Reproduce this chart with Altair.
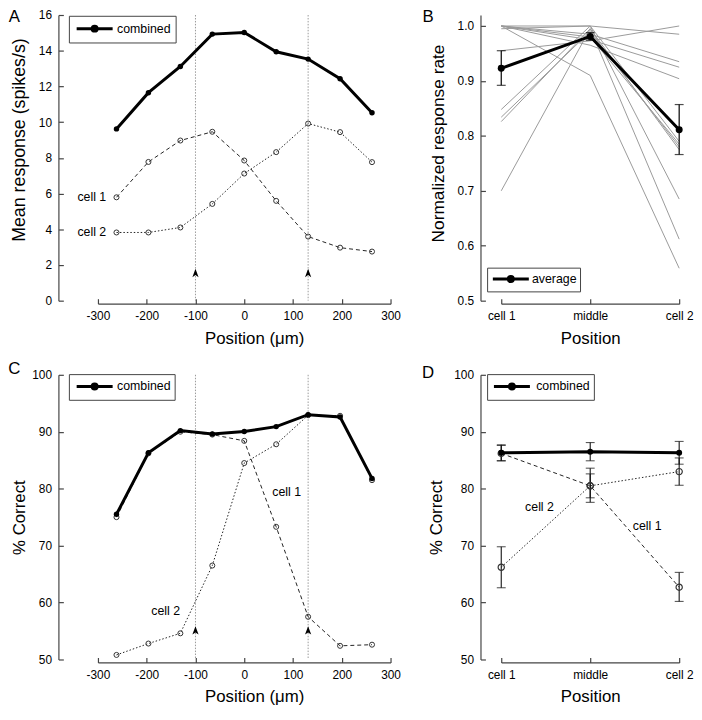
import altair as alt
import pandas as pd

FONT = "Liberation Sans"

# ---------------- Panels A and C: position in micrometres ----------------
position_um = [-262, -196.5, -131, -65.5, 0, 65.5, 131, 196.5, 262]
a_combined = [9.62, 11.65, 13.12, 14.93, 15.02, 13.94, 13.53, 12.43, 10.53]
a_cell1 = [5.79, 7.77, 8.97, 9.46, 7.85, 5.59, 3.59, 2.97, 2.75]
a_cell2 = [3.82, 3.82, 4.10, 5.42, 7.12, 8.32, 9.92, 9.44, 7.76]

c_combined = [75.5, 86.3, 90.2, 89.6, 90.05, 90.9, 93.0, 92.6, 81.8]
c_cell1 = [75.0, 86.2, 90.0, 89.5, 88.4, 73.3, 57.5, 52.4, 52.6]
c_cell2 = [50.8, 52.8, 54.6, 66.5, 84.5, 87.8, 92.9, 92.8, 81.5]

cell_centres_um = [-100, 131]
a_arrow_level = 1.55
c_arrow_level = 55.1

a_x_ticks = [-300, -200, -100, 0, 100, 200, 300]
a_y_ticks = [0, 2, 4, 6, 8, 10, 12, 14, 16]
c_y_ticks = [50, 60, 70, 80, 90, 100]

a_note_text = ["cell 1", "cell 2"]
a_note_x = [-283, -283]
a_note_y = [5.79, 3.82]
c_note_text = ["cell 1", "cell 2"]
c_note_x = [87, -161]
c_note_y = [79.4, 58.5]

# ---------------- Panels B and D: categorical positions ----------------
cat_labels = ["cell 1", "middle", "cell 2"]
cat_index = [0, 1, 2]

b_cells = [
    [1.000, 0.910, 0.559],
    [0.700, 0.995, 0.612],
    [0.955, 0.973, 1.000],
    [1.000, 1.000, 0.985],
    [1.000, 0.985, 0.935],
    [1.000, 0.975, 0.925],
    [1.000, 0.965, 0.904],
    [0.848, 1.000, 0.790],
    [0.834, 0.990, 0.780],
    [0.826, 0.995, 0.775],
    [0.995, 1.000, 0.685],
    [1.000, 0.980, 0.785],
]
b_avg = [0.923, 0.981, 0.811]
b_avg_lo = [0.892, 0.974, 0.766]
b_avg_hi = [0.955, 0.988, 0.857]
b_y_ticks = [0.5, 0.6, 0.7, 0.8, 0.9, 1.0]

d_combined = [86.3, 86.5, 86.3]
d_combined_lo = [84.9, 84.9, 84.3]
d_combined_hi = [87.7, 88.1, 88.3]
d_cell1 = [86.2, 80.5, 62.7]
d_cell1_lo = [84.9, 77.6, 60.2]
d_cell1_hi = [87.6, 83.6, 65.3]
d_cell2 = [66.2, 80.5, 83.0]
d_cell2_lo = [62.6, 78.4, 80.6]
d_cell2_hi = [69.8, 82.6, 85.4]

d_note_text = ["cell 2", "cell 1"]
d_note_x = [0.43, 1.64]
d_note_y = [76.8, 73.4]

# ---------------- styling helpers ----------------
TICK_IN = alt.ExprRef(expr="-5")
AXIS_COL = "#444"
LEG_SYMBOL = "M-2.6,0L2.6,0M0.36,0A0.36,0.36,0,1,1,-0.36,0A0.36,0.36,0,1,1,0.36,0"
CAT_EXPR = ("datum.value == 0 ? '%s' : (datum.value == 1 ? '%s' : '%s')"
            % tuple(cat_labels))
HYPHEN_EXPR = "datum.value < 0 ? '-' + format(-datum.value, 'd') : format(datum.value, 'd')"
ROW1_H = 289
ROW2_H = 288
LETTER_X = -84.5


def x_axis(title, values, label_expr, title_x=None):
    kw = dict(title=title, values=values, offset=3, tickSize=TICK_IN,
              labelPadding=12, titlePadding=9, labelFlush=False,
              labelOverlap=False, labelExpr=label_expr)
    if title_x is not None:
        kw["titleX"] = title_x
    return alt.Axis(**kw)


def y_axis(title, values, offset, fmt, title_pad, title_size, title_y=None):
    kw = dict(title=title, values=values, offset=offset, tickSize=TICK_IN,
              labelPadding=12, titlePadding=title_pad, labelOverlap=False,
              format=fmt, titleFontSize=title_size)
    if title_y is not None:
        kw["titleY"] = title_y
    return alt.Axis(**kw)


def legend(x, y, pad, sym_off, lab_off):
    return alt.Legend(title=None, orient="none", legendX=x, legendY=y,
                      padding=pad, strokeColor=AXIS_COL, fillColor="white",
                      symbolType=LEG_SYMBOL, symbolSize=196,
                      symbolStrokeWidth=3, symbolOffset=sym_off,
                      labelOffset=lab_off, labelFont=FONT, labelFontSize=12.5,
                      labelColor="black")


def letter(txt, x, y):
    return alt.Chart(pd.DataFrame({"t": [txt]})).mark_text(
        font=FONT, fontSize=17, align="center", baseline="middle", color="black"
    ).encode(text="t:N", x=alt.value(x), y=alt.value(y))


def position_panel(combined, cell1, cell2, y_dom, y_ax, arrow_level,
                   notes, note_align, leg, tag, tag_xy, height):
    df = pd.DataFrame({
        "pos": position_um * 3,
        "val": combined + cell1 + cell2,
        "series": ["combined"] * 9 + ["cell 1"] * 9 + ["cell 2"] * 9,
    })
    X = alt.X("pos:Q", scale=alt.Scale(domain=[-300, 300], nice=False, zero=False),
              axis=x_axis("Position (μm)", a_x_ticks, HYPHEN_EXPR, 158))
    Y = alt.Y("val:Q", scale=alt.Scale(domain=y_dom, nice=False, zero=False), axis=y_ax)
    marks = pd.DataFrame({"pos": cell_centres_um, "val": [arrow_level] * 2})
    note_df = pd.DataFrame({"pos": notes[0], "val": notes[1], "label": notes[2]})

    rules = alt.Chart(marks).mark_rule(color="#9a9a9a", strokeDash=[1.5, 1.5],
                                       strokeWidth=1).encode(x=X)
    arrows = alt.Chart(marks).mark_point(
        shape="M0,-1L0.75,1L0,0.5L-0.75,1Z", filled=True, color="black",
        size=70, opacity=1).encode(x=X, y=Y)
    c1 = alt.Chart(df).transform_filter(alt.datum.series == "cell 1")
    c2 = alt.Chart(df).transform_filter(alt.datum.series == "cell 2")
    cb = alt.Chart(df).transform_filter(alt.datum.series == "combined")
    c1_line = c1.mark_line(color="#222", strokeDash=[4, 3], strokeWidth=1).encode(x=X, y=Y)
    c2_line = c2.mark_line(color="#222", strokeDash=[1.5, 2], strokeWidth=1).encode(x=X, y=Y)
    c1_pts = c1.mark_point(filled=False, color="#333", size=26, strokeWidth=1, opacity=1).encode(x=X, y=Y)
    c2_pts = c2.mark_point(filled=False, color="#333", size=26, strokeWidth=1, opacity=1).encode(x=X, y=Y)
    cb_line = cb.mark_line(strokeWidth=3).encode(
        x=X, y=Y,
        color=alt.Color("series:N", scale=alt.Scale(domain=["combined"], range=["black"]),
                        legend=leg))
    cb_pts = cb.mark_point(filled=True, color="black", size=30, opacity=1).encode(x=X, y=Y)
    texts = alt.Chart(note_df).mark_text(font=FONT, fontSize=12.5, align=note_align,
                                         baseline="middle", color="black").encode(
        x=X, y=Y, text="label:N")
    return alt.layer(rules, arrows, c1_line, c2_line, c1_pts, c2_pts, cb_line, cb_pts,
                     texts, letter(tag, *tag_xy)).properties(width=296, height=height)


A = position_panel(a_combined, a_cell1, a_cell2, [0, 16],
                   y_axis("Mean response (spikes/s)", a_y_ticks, 40, "d", 10, 18, 126),
                   a_arrow_level, (a_note_x, a_note_y, a_note_text), "right",
                   legend(-29.4, 0.8, 4.5, 13.05, 14.15), "A", (LETTER_X, 2.5), ROW1_H)

C = position_panel(c_combined, c_cell1, c_cell2, [50, 100],
                   y_axis("% Correct", c_y_ticks, 40, "d", 3, 17),
                   c_arrow_level, (c_note_x, c_note_y, c_note_text), "center",
                   legend(-29.4, -0.7, 4, 13.55, 14.15), "C", (LETTER_X, -6), ROW2_H)

# ---------------- Panel B ----------------
YB_scale = alt.Scale(domain=[0.5, 1.02], nice=False, zero=False)
XB = alt.X("idx:Q", scale=alt.Scale(domain=[0, 2], nice=False, zero=False),
           axis=x_axis("Position", cat_index, CAT_EXPR))
YB = alt.Y("val:Q", scale=YB_scale,
           axis=y_axis("Normalized response rate", b_y_ticks, 21, ".1f", 10, 17.5, 129.5))
dfB = pd.DataFrame({
    "idx": cat_index * len(b_cells),
    "val": [v for row in b_cells for v in row],
    "cell": [i for i in range(len(b_cells)) for _ in cat_index],
})
dfBavg = pd.DataFrame({"idx": cat_index, "val": b_avg, "lo": b_avg_lo,
                       "hi": b_avg_hi, "series": ["average"] * 3})
b_gray = alt.Chart(dfB).mark_line(color="#9a9a9a", strokeWidth=1).encode(
    x=XB, y=YB, detail="cell:N")
b_err = alt.Chart(dfBavg).mark_rule(color="black", strokeWidth=1.2).encode(
    x=XB, y=alt.Y("lo:Q", scale=YB_scale, title="Normalized response rate"), y2="hi:Q")
b_cap_lo = alt.Chart(dfBavg).mark_tick(color="black", orient="horizontal", size=9,
                                       thickness=1.2).encode(
    x=XB, y=alt.Y("lo:Q", scale=YB_scale, title="Normalized response rate"))
b_cap_hi = alt.Chart(dfBavg).mark_tick(color="black", orient="horizontal", size=9,
                                       thickness=1.2).encode(
    x=XB, y=alt.Y("hi:Q", scale=YB_scale, title="Normalized response rate"))
b_line = alt.Chart(dfBavg).mark_line(strokeWidth=3).encode(
    x=XB, y=YB,
    color=alt.Color("series:N", scale=alt.Scale(domain=["average"], range=["black"]),
                    legend=legend(-14.3, 255.6, 3, 12.5, 12.8)))
b_pts = alt.Chart(dfBavg).mark_point(filled=True, color="black", size=50, opacity=1).encode(x=XB, y=YB)
B = alt.layer(b_gray, b_err, b_cap_lo, b_cap_hi, b_line, b_pts,
              letter("B", -74, 2.5)).properties(width=180, height=ROW1_H)

# ---------------- Panel D ----------------
YD_scale = alt.Scale(domain=[50, 100], nice=False, zero=False)
XD = alt.X("idx:Q", scale=alt.Scale(domain=[0, 2], nice=False, zero=False),
           axis=x_axis("Position", cat_index, CAT_EXPR))
YD = alt.Y("val:Q", scale=YD_scale, axis=y_axis("% Correct", c_y_ticks, 21, "d", 8, 17))
dfD = pd.DataFrame({
    "idx": cat_index * 3,
    "val": d_combined + d_cell1 + d_cell2,
    "lo": d_combined_lo + d_cell1_lo + d_cell2_lo,
    "hi": d_combined_hi + d_cell1_hi + d_cell2_hi,
    "series": ["combined"] * 3 + ["cell 1"] * 3 + ["cell 2"] * 3,
})
d_notes = pd.DataFrame({"idx": d_note_x, "val": d_note_y, "label": d_note_text})
d1 = alt.Chart(dfD).transform_filter(alt.datum.series == "cell 1")
d2 = alt.Chart(dfD).transform_filter(alt.datum.series == "cell 2")
dc = alt.Chart(dfD).transform_filter(alt.datum.series == "combined")
d_err = alt.Chart(dfD).mark_rule(color="#111", strokeWidth=1.1).encode(
    x=XD, y=alt.Y("lo:Q", scale=YD_scale, title="% Correct"), y2="hi:Q")
d_cap_lo = alt.Chart(dfD).mark_tick(color="#111", orient="horizontal", size=9,
                                    thickness=1.1).encode(
    x=XD, y=alt.Y("lo:Q", scale=YD_scale, title="% Correct"))
d_cap_hi = alt.Chart(dfD).mark_tick(color="#111", orient="horizontal", size=9,
                                    thickness=1.1).encode(
    x=XD, y=alt.Y("hi:Q", scale=YD_scale, title="% Correct"))
d1_line = d1.mark_line(color="#222", strokeDash=[4, 3], strokeWidth=1).encode(x=XD, y=YD)
d2_line = d2.mark_line(color="#222", strokeDash=[1.5, 2], strokeWidth=1).encode(x=XD, y=YD)
d1_pts = d1.mark_point(filled=False, color="#333", size=40, strokeWidth=1.2, opacity=1).encode(x=XD, y=YD)
d2_pts = d2.mark_point(filled=False, color="#333", size=40, strokeWidth=1.2, opacity=1).encode(x=XD, y=YD)
dc_line = dc.mark_line(strokeWidth=3).encode(
    x=XD, y=YD,
    color=alt.Color("series:N", scale=alt.Scale(domain=["combined"], range=["black"]),
                    legend=legend(-14.3, -0.7, 4, 12.6, 16)))
dc_pts = dc.mark_point(filled=True, color="black", size=36, opacity=1).encode(x=XD, y=YD)
d_text = alt.Chart(d_notes).mark_text(font=FONT, fontSize=12.5, align="center",
                                      baseline="middle", color="black").encode(
    x=XD, y=YD, text="label:N")
D = alt.layer(d1_line, d2_line, d_err, d_cap_lo, d_cap_hi, d1_pts, d2_pts, dc_line,
              dc_pts, d_text, letter("D", -74, -2)).properties(width=180, height=ROW2_H)

chart = alt.concat(
    A, B, C, D, columns=2, spacing={"row": 75, "column": 112},
    bounds="flush", align="each",
).resolve_scale(
    x="independent", y="independent", color="independent"
).configure_axis(
    labelFont=FONT, labelFontSize=12, labelColor="black",
    titleFont=FONT, titleFontSize=17, titleFontWeight="normal", titleColor="black",
    domainColor=AXIS_COL, tickColor=AXIS_COL, domainWidth=1.2, tickWidth=1.2, grid=False,
).configure_view(stroke=None).properties(
    padding={"left": 0, "top": -4, "right": 0, "bottom": 0}, background="white"
)

chart.save("out.html", embed_options={"renderer": "svg", "actions": False})
